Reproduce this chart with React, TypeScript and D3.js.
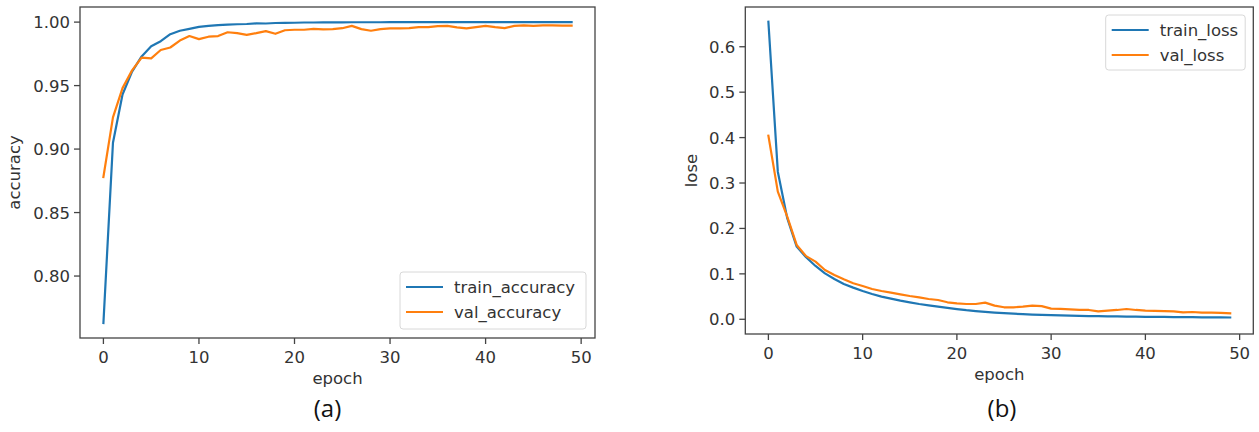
import React from "react";
import * as d3 from "d3";

// Training history, one value per epoch (0..49)
const epochs: number[] = Array.from({ length: 50 }, (_, i) => i);

const trainAccuracy: number[] = [
  0.763, 0.905, 0.943, 0.961, 0.973, 0.981, 0.985, 0.9905, 0.9932, 0.9947,
  0.9962, 0.997, 0.9976, 0.998, 0.9983, 0.9985, 0.999, 0.9989, 0.9993, 0.9994,
  0.9995, 0.9997, 0.9997, 0.9998, 0.9998, 0.9998, 0.9999, 0.9999, 0.9999, 0.9999,
  1.0, 1.0, 1.0, 1.0, 1.0, 1.0, 1.0, 1.0, 1.0, 1.0,
  1.0, 1.0, 1.0, 1.0, 1.0, 1.0, 1.0, 1.0, 1.0, 1.0,
];

const valAccuracy: number[] = [
  0.878, 0.925, 0.948, 0.962, 0.972, 0.9715, 0.978, 0.98, 0.9855, 0.989,
  0.9866, 0.9885, 0.989, 0.992, 0.9913, 0.99, 0.9913, 0.9929, 0.9908, 0.9936,
  0.994, 0.994, 0.9947, 0.9943, 0.9945, 0.9952, 0.997, 0.9945, 0.9932, 0.9945,
  0.995, 0.995, 0.9953, 0.996, 0.996, 0.9968, 0.997, 0.9958, 0.995, 0.996,
  0.997, 0.996, 0.9953, 0.997, 0.9974, 0.997, 0.9974, 0.9975, 0.9972, 0.9972,
];

const trainLoss: number[] = [
  0.655, 0.325, 0.2225, 0.16, 0.1365, 0.1174, 0.101, 0.0888, 0.0778, 0.0697,
  0.0623, 0.0557, 0.0498, 0.0454, 0.041, 0.0374, 0.0337, 0.0308, 0.0278, 0.0252,
  0.0225, 0.02, 0.018, 0.0162, 0.0148, 0.0135, 0.0123, 0.0113, 0.0104, 0.0097,
  0.009, 0.0085, 0.008, 0.0075, 0.0071, 0.0068, 0.0065, 0.0062, 0.006, 0.0057,
  0.0055, 0.0053, 0.0051, 0.0049, 0.0047, 0.0046, 0.0044, 0.0043, 0.0042, 0.004,
];

const valLoss: number[] = [
  0.404, 0.281, 0.226, 0.1637, 0.139, 0.127, 0.1086, 0.0976, 0.088, 0.0793,
  0.0733, 0.0667, 0.0623, 0.0586, 0.055, 0.0513, 0.0484, 0.0447, 0.0425, 0.0374,
  0.0352, 0.0337, 0.0337, 0.0366, 0.03, 0.0264, 0.0264, 0.0278, 0.03, 0.029,
  0.0234, 0.0227, 0.022, 0.0205, 0.0205, 0.0176, 0.019, 0.0205, 0.0227, 0.0205,
  0.019, 0.0183, 0.018, 0.0176, 0.0154, 0.016, 0.0146, 0.0146, 0.014, 0.0132,
];

// Tick values and axis extents
const epochTicks: number[] = [0, 10, 20, 30, 40, 50];
const epochDomain: number[] = [-2.45, 51.45];
const accuracyTicks: number[] = [0.8, 0.85, 0.9, 0.95, 1.0];
const accuracyDomain: number[] = [0.7512, 1.0119];
const lossTicks: number[] = [0.0, 0.1, 0.2, 0.3, 0.4, 0.5, 0.6];
const lossDomain: number[] = [-0.0324, 0.6875];

const BLUE = "#1f77b4";
const ORANGE = "#ff7f0e";
const FONT = "DejaVu Sans, sans-serif";
const TEXT = "#333";
const SPINE = "#444";
const FS = 16.5;

type Series = { name: string; values: number[]; color: string };

type PanelProps = {
  left: number;
  top: number;
  right: number;
  bottom: number;
  yDomain: number[];
  yTicks: number[];
  yFormat: (v: number) => string;
  yLabel: string;
  yLabelX: number;
  series: Series[];
  legend: { x: number; y: number; w: number; h: number };
  caption: string;
  captionX: number;
};

function Panel(p: PanelProps) {
  const x = d3.scaleLinear().domain(epochDomain).range([p.left, p.right]);
  const y = d3.scaleLinear().domain(p.yDomain).range([p.bottom, p.top]);
  const line = (vals: number[]) =>
    d3
      .line<number>()
      .x((_, i) => x(epochs[i]))
      .y((v) => y(v))(vals) || "";
  const cx = (p.left + p.right) / 2;
  const cy = (p.top + p.bottom) / 2;
  const lg = p.legend;
  return (
    <g>
      {p.series.map((s) => (
        <path
          key={s.name}
          d={line(s.values)}
          fill="none"
          stroke={s.color}
          strokeWidth={2.2}
          strokeLinejoin="round"
          strokeLinecap="square"
        />
      ))}
      <rect
        x={p.left}
        y={p.top}
        width={p.right - p.left}
        height={p.bottom - p.top}
        fill="none"
        stroke={SPINE}
        strokeWidth={1.3}
      />
      {epochTicks.map((t) => (
        <g key={"x" + t}>
          <line x1={x(t)} x2={x(t)} y1={p.bottom} y2={p.bottom + 6} stroke={SPINE} strokeWidth={1.3} />
          <text
            x={x(t)}
            y={p.bottom + 24.5}
            textAnchor="middle"
            fontFamily={FONT}
            fontSize={FS}
            fill={TEXT}
          >
            {t}
          </text>
        </g>
      ))}
      {p.yTicks.map((t) => (
        <g key={"y" + t}>
          <line x1={p.left - 6} x2={p.left} y1={y(t)} y2={y(t)} stroke={SPINE} strokeWidth={1.3} />
          <text
            x={p.left - 10}
            y={y(t) + 6}
            textAnchor="end"
            fontFamily={FONT}
            fontSize={FS}
            fill={TEXT}
          >
            {p.yFormat(t)}
          </text>
        </g>
      ))}
      <text x={cx} y={p.bottom + 46} textAnchor="middle" fontFamily={FONT} fontSize={FS} fill={TEXT}>
        epoch
      </text>
      <text
        transform={`translate(${p.yLabelX},${cy}) rotate(-90)`}
        textAnchor="middle"
        fontFamily={FONT}
        fontSize={FS}
        fill={TEXT}
      >
        {p.yLabel}
      </text>
      <rect
        x={lg.x}
        y={lg.y}
        width={lg.w}
        height={lg.h}
        rx={3}
        fill="#fff"
        fillOpacity={0.8}
        stroke="#d8d8d8"
        strokeWidth={1}
      />
      {p.series.map((s, i) => {
        const ly = lg.y + 15 + i * 25;
        return (
          <g key={"lg" + s.name}>
            <line x1={lg.x + 6} x2={lg.x + 43} y1={ly} y2={ly} stroke={s.color} strokeWidth={2.2} />
            <text x={lg.x + 54} y={ly + 6} fontFamily={FONT} fontSize={FS} fill={TEXT}>
              {s.name}
            </text>
          </g>
        );
      })}
      <text
        x={p.captionX}
        y={417}
        textAnchor="middle"
        fontFamily="Open Sans, sans-serif"
        fontSize={24}
        fill="#111"
      >
        {p.caption}
      </text>
    </g>
  );
}

export default function App() {
  return (
    <svg
      width={1259}
      height={432}
      style={{ position: "absolute", left: 0, top: 0, background: "#fff" }}
    >
      <rect width={1259} height={432} fill="#fff" />
      <Panel
        left={80}
        top={7}
        right={595}
        bottom={338}
        yDomain={accuracyDomain}
        yTicks={accuracyTicks}
        yFormat={(v) => v.toFixed(2)}
        yLabel="accuracy"
        yLabelX={19.5}
        series={[
          { name: "train_accuracy", values: trainAccuracy, color: BLUE },
          { name: "val_accuracy", values: valAccuracy, color: ORANGE },
        ]}
        legend={{ x: 400, y: 272, w: 186, h: 57 }}
        caption="(a)"
        captionX={327.5}
      />
      <Panel
        left={745.3}
        top={7}
        right={1253.3}
        bottom={334}
        yDomain={lossDomain}
        yTicks={lossTicks}
        yFormat={(v) => v.toFixed(1)}
        yLabel="lose"
        yLabelX={697}
        series={[
          { name: "train_loss", values: trainLoss, color: BLUE },
          { name: "val_loss", values: valLoss, color: ORANGE },
        ]}
        legend={{ x: 1105.7, y: 15, w: 139.5, h: 55 }}
        caption="(b)"
        captionX={1002}
      />
    </svg>
  );
}
